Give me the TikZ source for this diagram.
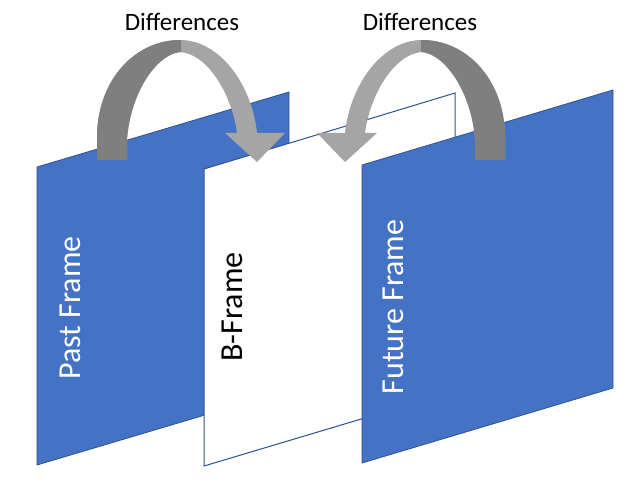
\documentclass[tikz,border=0pt]{standalone}
\usepackage{fontspec}
\setmainfont{Carlito}
\definecolor{frameblue}{HTML}{4472C4}
\definecolor{edgeblue}{HTML}{2F528F}
\definecolor{arrdark}{HTML}{7F7F7F}
\definecolor{arrlight}{HTML}{A5A5A5}
\tikzset{
  framebox/.style={fill=frameblue, draw=edgeblue, line width=0.8pt, line join=miter},
  bframebox/.style={fill=white, draw=edgeblue, line width=1pt},
  difftext/.style={font=\fontsize{25}{28}\selectfont, text=black, inner sep=0pt},
  framelabel/.style={font=\fontsize{32}{36}\selectfont, rotate=90, inner sep=0pt},
}
\newcommand{\curvearrowshape}{(97,160) -- (97,135) .. controls (98,80) and (135,40) .. (180,40) .. controls (220,40) and (252,85) .. (257,133) -- (285,133) -- (257,162) -- (225,133) -- (237,133) .. controls (232,95) and (208,54) .. (180,52) .. controls (155,55) and (130,95) .. (127,140) -- (127,160) -- cycle}
\begin{document}
\begin{tikzpicture}[x=1pt,y=-1pt]
\useasboundingbox (0,0) rectangle (629,489);
% frames
\draw[framebox] (37,167) -- (289,92) -- (289,390) -- (37,465) -- cycle;
\draw[bframebox] (204,169) -- (455,93) -- (455,391) -- (204,466) -- cycle;
\draw[framebox] (362,165) -- (613,90) -- (613,388) -- (362,463) -- cycle;
% left curved arrow
\fill[arrlight] \curvearrowshape;
\begin{scope}
  \clip (0,0) rectangle (181,200);
  \fill[arrdark] \curvearrowshape;
\end{scope}
% right curved arrow (mirror)
\begin{scope}[shift={(602,0)}, xscale=-1]
  \fill[arrlight] \curvearrowshape;
  \begin{scope}
    \clip (0,0) rectangle (181,200);
    \fill[arrdark] \curvearrowshape;
  \end{scope}
\end{scope}
% labels
\node[difftext] (d1) at (182,22) {Differences};
\node[difftext] (d2) at (420,22) {Differences};
\node[framelabel, text=white] (pf) at (70,308) {Past Frame};
\node[framelabel, text=black] (bf) at (232,307) {B-Frame};
\node[framelabel, text=white] (ff) at (393,307) {Future Frame};
\end{tikzpicture}
\end{document}
